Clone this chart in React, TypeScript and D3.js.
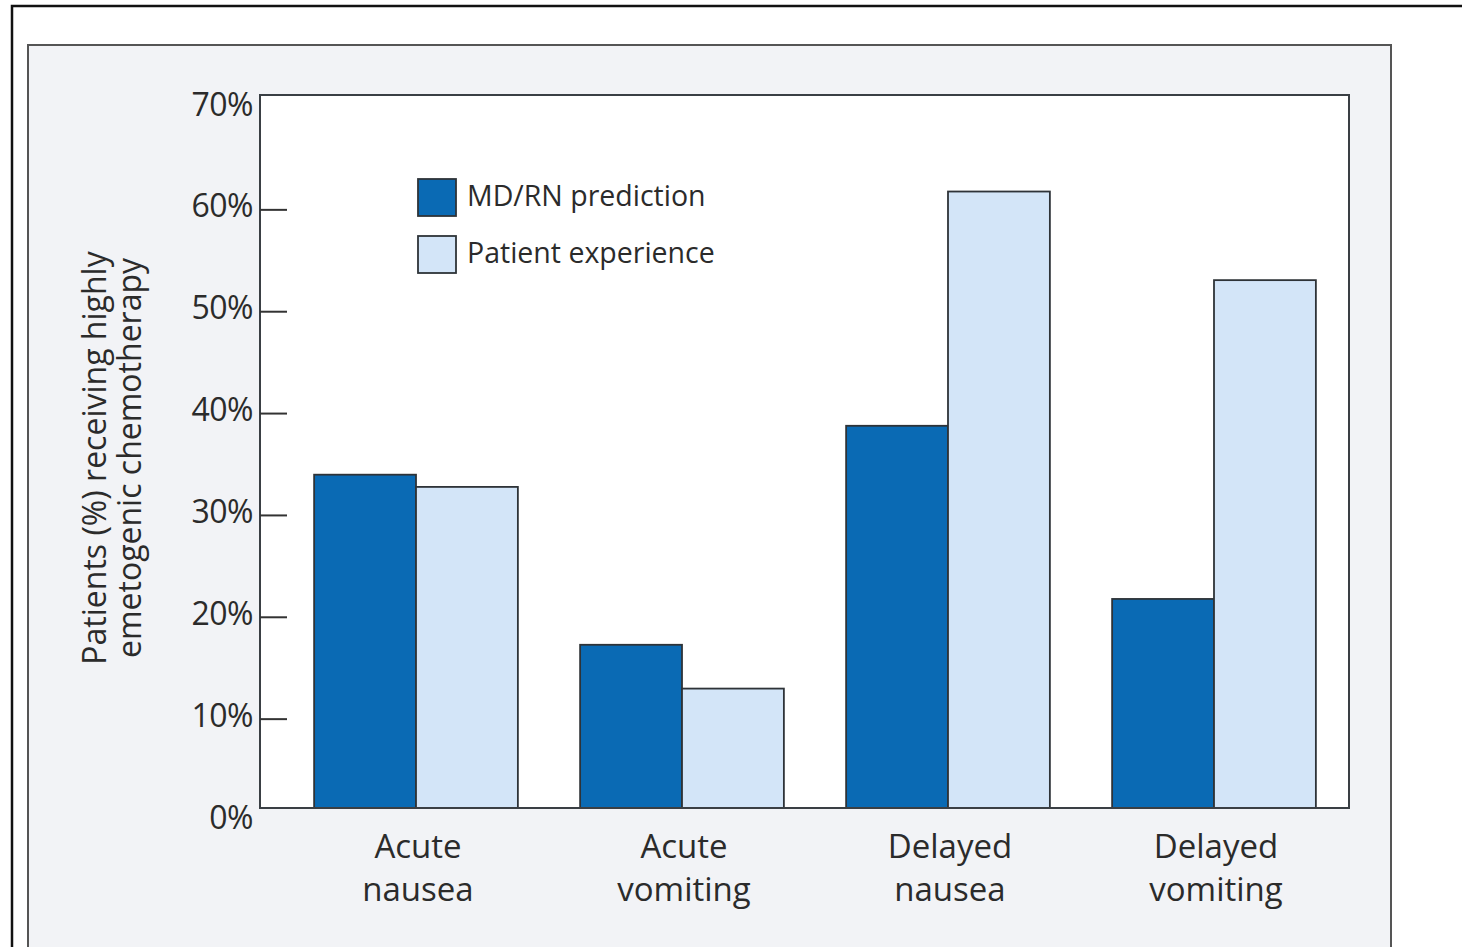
import React from "react";
import * as d3 from "d3";

const categories = [["Acute", "nausea"], ["Acute", "vomiting"], ["Delayed", "nausea"], ["Delayed", "vomiting"]];
const seriesNames = ["MD/RN prediction", "Patient experience"];
const mdPrediction = [34, 17.3, 38.8, 21.8];
const patientExperience = [32.8, 13, 61.8, 53.1];
const yTickValues = [0, 10, 20, 30, 40, 50, 60, 70];
const seriesColors = ["#0a6ab4", "#d3e5f8"];

const W = 1462;
const H = 947;
const FONT = "'Open Sans', 'Noto Sans', sans-serif";
const TEXT = "#2b2b2b";
const WEIGHT = 500;

export default function App() {
  const plot = { x0: 260, x1: 1349, y0: 95, y1: 808 };
  const y = d3.scaleLinear().domain([0, 70]).range([821, 108]);
  const keys = categories.map((c) => c.join(" "));
  const x = d3.scaleBand<string>().domain(keys).range([283, 1347]).paddingInner(0.234).paddingOuter(0.117);
  const xs = d3.scaleBand<number>().domain([0, 1]).range([0, x.bandwidth()]);
  const series = [mdPrediction, patientExperience];

  return (
    <svg width={W} height={H} style={{ position: "absolute", left: 0, top: 0, background: "#fff" }}>
      {/* outer frame */}
      <path d={`M12,${H + 5} L12,6 L${W + 5},6`} fill="none" stroke="#111" strokeWidth={2.5} />
      {/* panel */}
      <rect x={28} y={45} width={1363} height={H} fill="#f2f3f6" stroke="#555" strokeWidth={2} />
      {/* plot area */}
      <rect x={plot.x0} y={plot.y0} width={plot.x1 - plot.x0} height={plot.y1 - plot.y0} fill="#fff" stroke="#3a3f44" strokeWidth={2} />

      {/* bars */}
      {keys.map((k, i) => (
        <g key={k} transform={`translate(${x(k)},0)`}>
          {series.map((s, j) => (
            <rect
              key={j}
              x={xs(j)}
              y={y(s[i])}
              width={xs.bandwidth()}
              height={plot.y1 - y(s[i])}
              fill={seriesColors[j]}
              stroke="#2e3338"
              strokeWidth={1.8}
            />
          ))}
        </g>
      ))}
      {/* redraw bottom axis line */}
      <line x1={plot.x0} x2={plot.x1} y1={plot.y1} y2={plot.y1} stroke="#3a3f44" strokeWidth={2} />

      {/* y ticks */}
      {yTickValues.map((v) => (
        <g key={v}>
          {v > 0 && v < 70 && (
            <line x1={plot.x0} x2={plot.x0 + 27} y1={y(v)} y2={y(v)} stroke="#333" strokeWidth={2} />
          )}
          <text x={253} y={y(v) - 1} textAnchor="end" dominantBaseline="middle" fontFamily={FONT} fontSize={32} fontWeight={WEIGHT} letterSpacing={-0.5} fill={TEXT}>
            {`${v}%`}
          </text>
        </g>
      ))}

      {/* x labels */}
      {categories.map((c, i) => {
        const cx = (x(keys[i]) as number) + x.bandwidth() / 2 + 2;
        return (
          <text key={i} x={cx} textAnchor="middle" fontFamily={FONT} fontSize={33} fontWeight={WEIGHT} fill={TEXT}>
            <tspan x={cx} y={858}>{c[0]}</tspan>
            <tspan x={cx} y={901}>{c[1]}</tspan>
          </text>
        );
      })}

      {/* y axis title */}
      <text transform="translate(106,458) rotate(-90)" textAnchor="middle" fontFamily={FONT} fontSize={32} fontWeight={WEIGHT} fill={TEXT}>
        <tspan x={0} y={0}>Patients (%) receiving highly</tspan>
        <tspan x={0} y={35}>emetogenic chemotherapy</tspan>
      </text>

      {/* legend */}
      {seriesNames.map((n, j) => (
        <g key={n} transform={`translate(418,${179 + j * 57})`}>
          <rect x={0} y={0} width={38} height={37} fill={seriesColors[j]} stroke="#2e3338" strokeWidth={1.8} />
          <text x={49} y={19} dominantBaseline="middle" fontFamily={FONT} fontSize={28.5} fontWeight={WEIGHT} fill={TEXT}>
            {n}
          </text>
        </g>
      ))}
    </svg>
  );
}
